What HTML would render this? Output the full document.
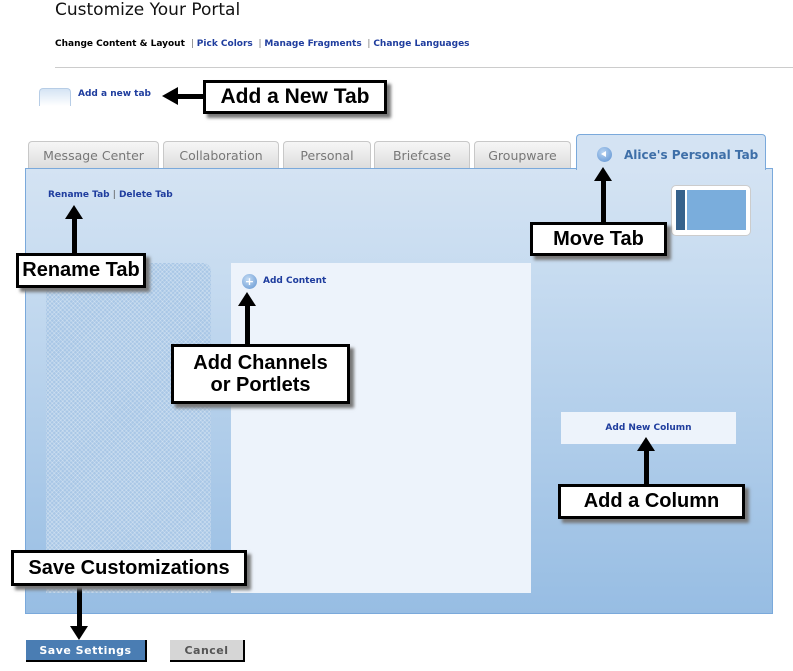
<!DOCTYPE html>
<html><head><meta charset="utf-8"><style>
*{margin:0;padding:0;box-sizing:border-box}
body{width:793px;height:671px;position:relative;background:#fff;font-family:"DejaVu Sans","Liberation Sans",sans-serif;overflow:hidden}
.a{position:absolute}
.lnk{color:#1f3d9e;font-weight:bold;font-size:9px}
.tab{position:absolute;top:141px;height:28px;border:1px solid #c8c8c8;border-bottom:none;border-radius:4px 4px 0 0;background:linear-gradient(#f6f6f6,#dcdcdc);color:#777;font-size:12.5px;text-align:center;line-height:27px}
.co{position:absolute;background:#fff;border:3px solid #000;box-shadow:4px 4px 3px #777;font-family:"Liberation Sans",Arial,sans-serif;font-weight:bold;font-size:20px;color:#000;text-align:center}
.v{position:absolute;width:5px;background:#000}
.up{position:absolute;width:0;height:0;border-left:9px solid transparent;border-right:9px solid transparent;border-bottom:14px solid #000}
.dn{position:absolute;width:0;height:0;border-left:9px solid transparent;border-right:9px solid transparent;border-top:14px solid #000}
</style></head><body>
<div class="a" style="left:55px;top:0;font-size:17px;color:#111">Customize Your Portal</div>
<div class="a" style="left:55px;top:39px;font-size:9px;font-weight:bold;color:#000">Change Content &amp; Layout <span style="color:#777;font-weight:normal">&nbsp;|&nbsp;</span><span class="lnk">Pick Colors</span><span style="color:#777;font-weight:normal"> &nbsp;|&nbsp;</span><span class="lnk">Manage Fragments</span><span style="color:#777;font-weight:normal"> &nbsp;|&nbsp;</span><span class="lnk">Change Languages</span></div>
<div class="a" style="left:55px;top:67px;width:738px;height:1px;background:#ccc"></div>
<div class="a" style="left:39px;top:88px;width:32px;height:18px;border:1px solid #b7cde6;border-bottom:none;border-radius:4px 4px 0 0;background:linear-gradient(#d5e4f4,#fff)"></div>
<div class="a lnk" style="left:78px;top:89px">Add a new tab</div>
<div class="a" style="left:175px;top:94px;width:30px;height:5px;background:#000"></div>
<div class="a" style="left:162px;top:87px;border-top:9px solid transparent;border-bottom:9px solid transparent;border-right:16px solid #000"></div>
<div class="co" style="left:203px;top:80px;width:184px;height:34px;line-height:28px;font-size:21px">Add a New Tab</div>

<div class="tab" style="left:28px;width:131px">Message Center</div>
<div class="tab" style="left:163px;width:116px">Collaboration</div>
<div class="tab" style="left:283px;width:88px">Personal</div>
<div class="tab" style="left:374px;width:96px">Briefcase</div>
<div class="tab" style="left:474px;width:97px">Groupware</div>
<div class="a" style="left:25px;top:168px;width:748px;height:446px;border:1px solid #7aa9db;background:linear-gradient(#d4e3f3 0%,#c6dbf0 25%,#97bde3 100%)"></div>
<div class="a" style="left:576px;top:134px;width:190px;height:36px;border:1px solid #7aa9db;border-bottom:none;border-radius:4px 4px 0 0;background:#d4e3f3;color:#3e6fa8;font-weight:bold;font-size:12px;line-height:40px;padding-left:47px">Alice's Personal Tab</div>
<div class="a" style="left:597px;top:147px;width:15px;height:15px;border-radius:50%;background:radial-gradient(circle at 40% 35%,#b8d4f2,#5a8fd0)"></div>
<div class="a" style="left:601px;top:151px;border-top:3.5px solid transparent;border-bottom:3.5px solid transparent;border-right:5px solid #fff"></div>

<div class="a lnk" style="left:48px;top:190px">Rename Tab <span style="color:#555;font-weight:normal">|</span> Delete Tab</div>
<div class="a" style="left:671px;top:185px;width:80px;height:51px;background:#fff;border-radius:5px;border:1px solid #ccc"></div>
<div class="a" style="left:676px;top:190px;width:9px;height:40px;background:#36628c"></div>
<div class="a" style="left:687px;top:190px;width:59px;height:40px;background:#7aaddc"></div>

<div class="a" style="left:46px;top:263px;width:165px;height:330px;border-radius:8px 8px 0 0;background-color:#a9c7e6;background-image:repeating-linear-gradient(45deg,rgba(255,255,255,.25) 0 1px,transparent 1px 3px),repeating-linear-gradient(-45deg,rgba(255,255,255,.25) 0 1px,transparent 1px 3px)"></div>
<div class="a" style="left:231px;top:263px;width:300px;height:330px;background:#edf3fb"></div>
<div class="a" style="left:242px;top:274px;width:15px;height:15px;border-radius:50%;background:radial-gradient(circle at 40% 35%,#c5dcf4,#5f93d0);color:#fff;font-size:11px;font-weight:bold;text-align:center;line-height:15px">+</div>
<div class="a lnk" style="left:263px;top:276px">Add Content</div>
<div class="a" style="left:561px;top:412px;width:175px;height:32px;background:#edf3fb;text-align:center;line-height:32px;font-size:9px;font-weight:bold;color:#1f3d9e">Add New Column</div>

<div class="a" style="left:26px;top:640px;width:121px;height:22px;background:#4a7db3;border-right:2px solid #000;border-bottom:2px solid #000;color:#fff;font-weight:bold;font-size:11px;text-align:center;line-height:21px;letter-spacing:.5px">Save Settings</div>
<div class="a" style="left:170px;top:640px;width:75px;height:22px;background:#d6d6d6;border-right:2px solid #000;border-bottom:2px solid #000;color:#555;font-weight:bold;font-size:11px;text-align:center;line-height:21px;letter-spacing:.5px">Cancel</div>

<div class="up" style="left:65px;top:205px"></div><div class="v" style="left:72px;top:218px;height:36px"></div>
<div class="co" style="left:16px;top:253px;width:130px;height:35px;line-height:29px">Rename Tab</div>
<div class="up" style="left:594px;top:167px"></div><div class="v" style="left:601px;top:180px;height:43px"></div>
<div class="co" style="left:530px;top:222px;width:137px;height:34px;line-height:28px">Move Tab</div>
<div class="up" style="left:238px;top:292px"></div><div class="v" style="left:245px;top:305px;height:40px"></div>
<div class="co" style="left:171px;top:344px;width:179px;height:60px;line-height:22px;padding-top:5px">Add Channels<br>or Portlets</div>
<div class="up" style="left:637px;top:437px"></div><div class="v" style="left:644px;top:450px;height:35px"></div>
<div class="co" style="left:558px;top:484px;width:187px;height:35px;line-height:29px">Add a Column</div>
<div class="v" style="left:77px;top:584px;height:45px"></div><div class="dn" style="left:70px;top:626px"></div>
<div class="co" style="left:11px;top:550px;width:236px;height:36px;line-height:30px">Save Customizations</div>
</body></html>
